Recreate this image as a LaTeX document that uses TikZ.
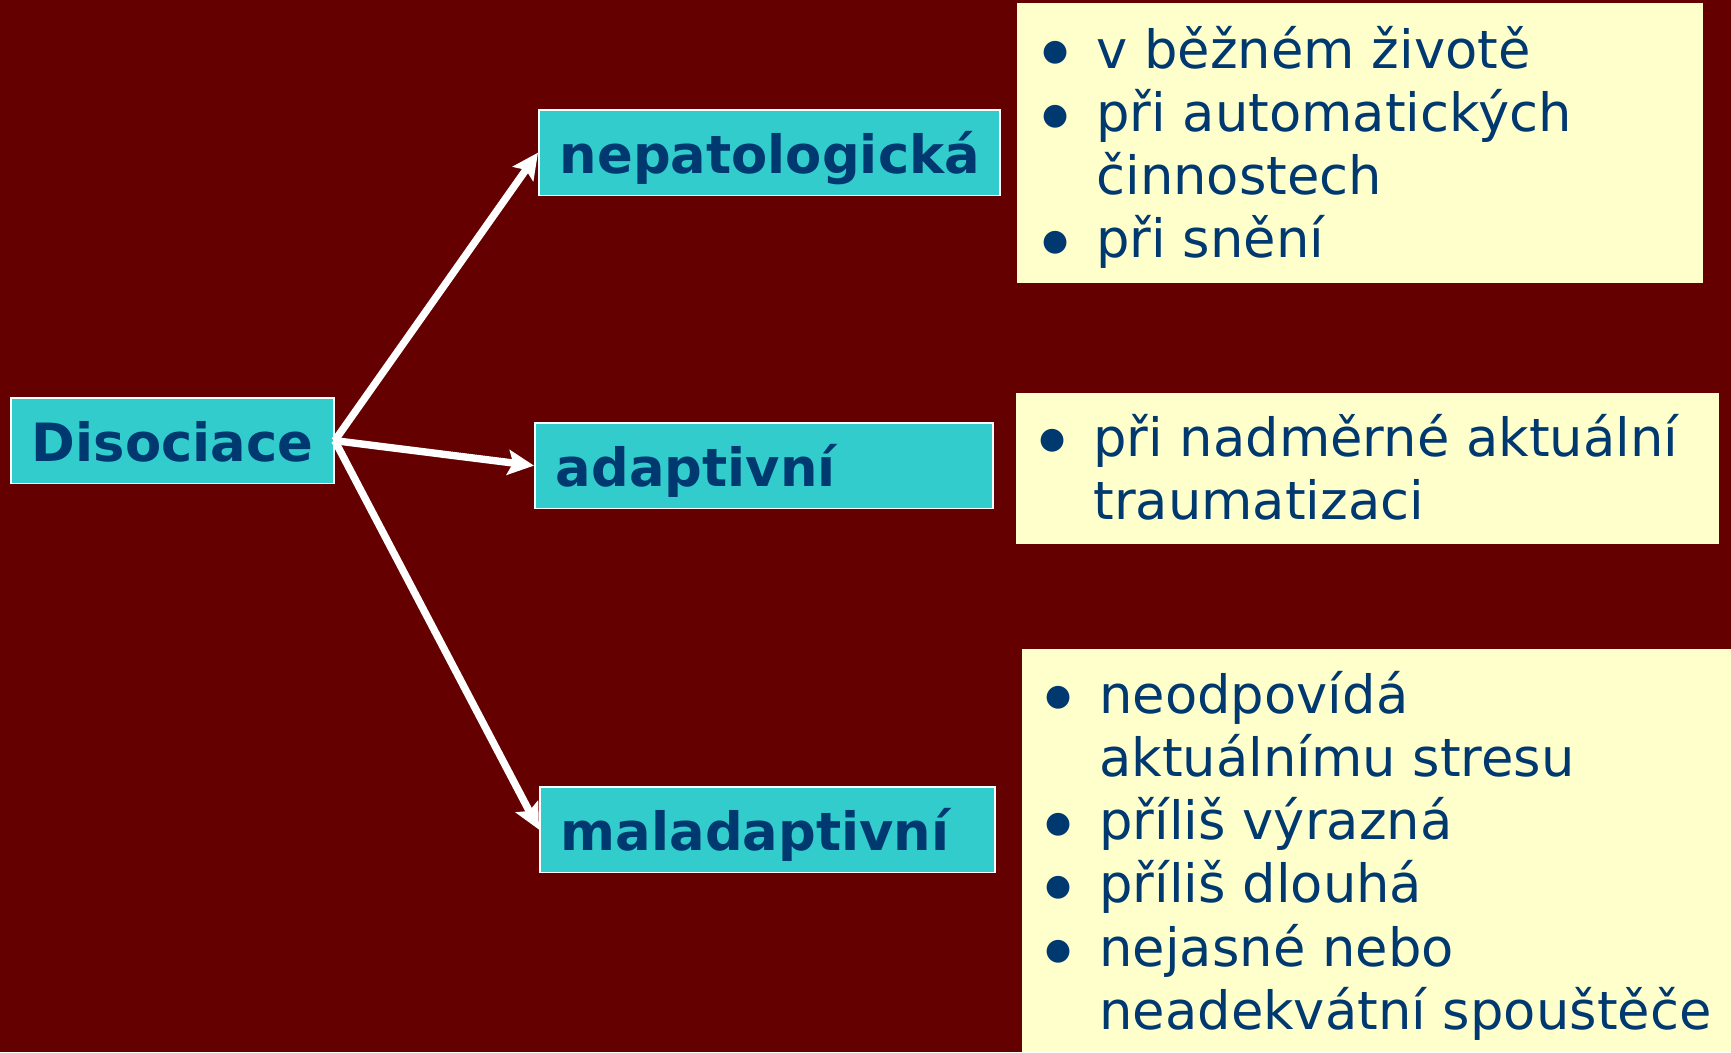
\documentclass[tikz,border=0pt]{standalone}
\usepackage{fontspec}
\setmainfont{DejaVu Sans}
\usetikzlibrary{arrows.meta}
\definecolor{slidered}{RGB}{100,0,0}
\definecolor{tealbox}{RGB}{51,204,204}
\definecolor{paleyellow}{RGB}{255,255,204}
\definecolor{navytext}{RGB}{0,56,112}
\newcommand{\bul}{\makebox[1.12cm][l]{\hspace*{0.05cm}\raisebox{4pt}{\fontsize{17}{17}\selectfont ●}}}

\begin{document}
\begin{tikzpicture}[
	labelbox/.style={draw=white, line width=1pt, fill=tealbox, text=navytext, anchor=north west,
		font=\bfseries\fontsize{30}{36}\selectfont, inner xsep=0.42cm, text width=#1, align=left,
		minimum height=1.71cm, text height=0.82cm, text depth=0cm},
	notebox/.style={fill=paleyellow, anchor=north west, inner sep=0pt},
	notelist/.style={anchor=base west, inner sep=0pt, text=navytext, font=\fontsize{30}{36}\selectfont},
	branch/.style={draw=white, line width=4.2pt, -{Stealth[length=0.52cm, width=0.5cm, inset=0.1cm]}}
	]
			%%%%% START %%%%%
			
			\useasboundingbox (0, 0) rectangle (34.62, -21.04);
			\fill[slidered] (0, 0) rectangle (34.62, -21.04);
			
			\node[labelbox=5.62cm] (dis) at (0.20, -7.94) {Disociace};
			\node[labelbox=8.38cm] (nep) at (10.76, -2.18) {nepatologická};
			\node[labelbox=8.32cm] (adap) at (10.68, -8.44) {adaptivní};
			\node[labelbox=8.26cm] (mal) at (10.78, -15.72) {maladaptivní};
			
			\draw[branch] (dis.east) -- (nep.west);
			\draw[branch] (dis.east) -- (adap.west);
			\draw[branch] (dis.east) -- (mal.west);
			
			\node[notebox, minimum width=13.72cm, minimum height=5.60cm] (nepnote) at (20.34, -0.06) {};
			\node[notebox, minimum width=14.06cm, minimum height=3.02cm] (adapnote) at (20.32, -7.86) {};
			\node[notebox, minimum width=14.18cm, minimum height=8.06cm] (malnote) at (20.44, -12.98) {};
			
			\node[notelist] (neplist) at (20.80, -1.36) {\begin{tabular}[t]{@{}l@{}}
				\bul v běžném životě\\
				\bul při automatických\\
				\hspace*{1.12cm}činnostech\\
				\bul při snění
			\end{tabular}};
			
			\node[notelist] (adaplist) at (20.74, -9.12) {\begin{tabular}[t]{@{}l@{}}
				\bul při nadměrné aktuální\\
				\hspace*{1.12cm}traumatizaci
			\end{tabular}};
			
			\node[notelist] (mallist) at (20.86, -14.26) {\begin{tabular}[t]{@{}l@{}}
				\bul neodpovídá\\
				\hspace*{1.12cm}aktuálnímu stresu\\
				\bul příliš výrazná\\
				\bul příliš dlouhá\\
				\bul nejasné nebo\\
				\hspace*{1.12cm}neadekvátní spouštěče
			\end{tabular}};
			
			%%%%% END %%%%%
\end{tikzpicture}
\end{document}
